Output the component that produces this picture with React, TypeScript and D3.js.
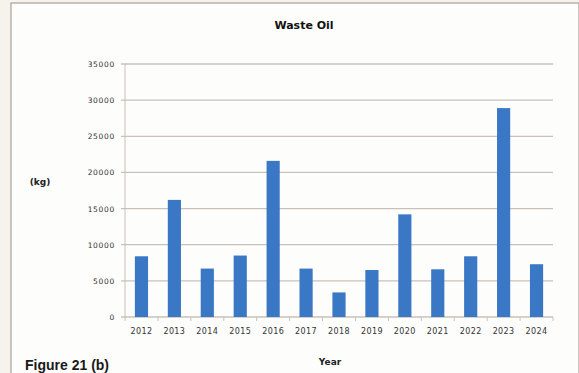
import React from "react";
import * as d3 from "d3";

const years = ["2012","2013","2014","2015","2016","2017","2018","2019","2020","2021","2022","2023","2024"];
const values = [8400,16200,6700,8500,21600,6700,3400,6500,14200,6600,8400,28900,7300];
const yTicks = [0,5000,10000,15000,20000,25000,30000,35000];
const title = "Waste Oil";
const yLabel = "(kg)";
const xLabel = "Year";
const caption = "Figure 21 (b)";

export default function App() {
  const W = 579, H = 373;
  const left = 125, right = 553, top = 64, bottom = 317;
  const x = d3.scaleBand<string>().domain(years).range([left, right]).paddingInner(0.6).paddingOuter(0.3);
  const y = d3.scaleLinear().domain([0, 35000]).range([bottom, top]);
  const band = d3.scaleBand<string>().domain(years).range([left, right]);
  const font = "'DejaVu Sans', sans-serif";
  const capFont = "'Liberation Sans', Arial, sans-serif";
  return (
    <svg width={W} height={H} style={{ position: "absolute", left: 0, top: 0, display: "block" }}>
      <rect x={0} y={0} width={W} height={H} fill="#f6f3ec" />
      <rect x={11} y={3} width={W - 11} height={H} fill="#fdfdfc" stroke="#aaa199" strokeWidth={1.2} />
      <text x={304} y={29} textAnchor="middle" fontFamily={font} fontWeight="bold" fontSize={11} fill="#111">{title}</text>
      {yTicks.map((t) => (
        <g key={t}>
          <line x1={left - 4} x2={right} y1={y(t)} y2={y(t)} stroke="#c9c0b8" strokeWidth={1.3} />
          <text x={115} y={y(t) + 3} textAnchor="end" fontFamily={font} fontSize={7.5} letterSpacing={0.7} fill="#333">{t}</text>
        </g>
      ))}
      <line x1={left} x2={left} y1={top} y2={bottom + 4} stroke="#c9c0b8" strokeWidth={1} />
      {years.map((yr) => (
        <line key={"t" + yr} x1={(band(yr) as number) + band.bandwidth()} x2={(band(yr) as number) + band.bandwidth()} y1={bottom} y2={bottom + 4} stroke="#c9c0b8" strokeWidth={1} />
      ))}
      {years.map((yr, i) => (
        <rect key={yr} x={x(yr)} y={y(values[i])} width={x.bandwidth()} height={bottom - y(values[i])} fill="#3a78c5" />
      ))}
      {years.map((yr) => (
        <text key={"l" + yr} x={(band(yr) as number) + band.bandwidth() / 2} y={334} textAnchor="middle" fontFamily={font} fontSize={8} letterSpacing={0.4} fill="#333">{yr}</text>
      ))}
      <text x={40} y={185} textAnchor="middle" fontFamily={font} fontWeight="bold" fontSize={9} fill="#222">{yLabel}</text>
      <text x={330} y={365} textAnchor="middle" fontFamily={font} fontWeight="bold" fontSize={9} fill="#222">{xLabel}</text>
      <text x={25} y={370} fontFamily={capFont} fontWeight="bold" fontSize={14} fill="#1a1a1a">{caption}</text>
    </svg>
  );
}
